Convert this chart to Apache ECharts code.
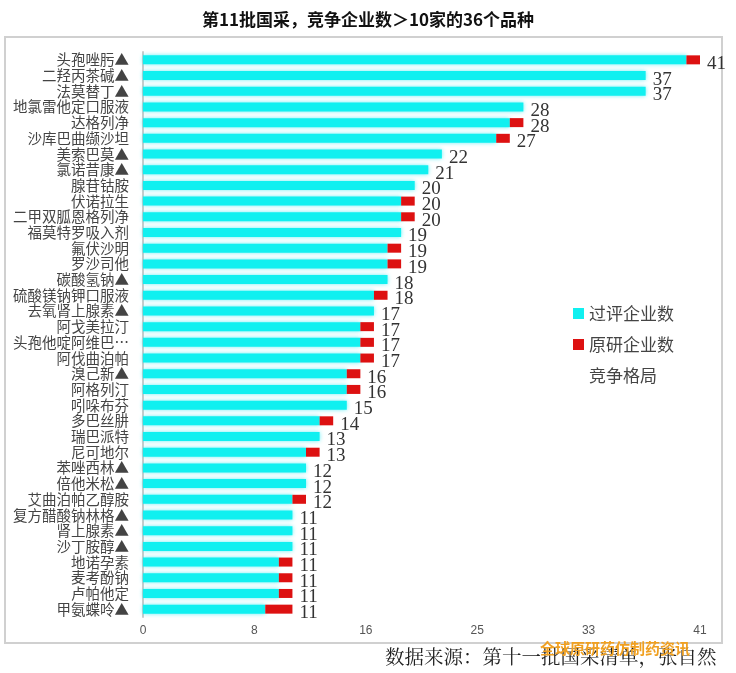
<!DOCTYPE html>
<html><head><meta charset="utf-8">
<script src="https://cdn.jsdelivr.net/npm/echarts@6/dist/echarts.min.js"></script>
<style>html,body{margin:0;padding:0;background:#fff}#c{width:736px;height:673px}</style>
</head><body><div id="c"></div>
<script>
const categories = ["头孢唑肟▲","二羟丙茶碱▲","法莫替丁▲","地氯雷他定口服液","达格列净","沙库巴曲缬沙坦","美索巴莫▲","氯诺昔康▲","腺苷钴胺","伏诺拉生","二甲双胍恩格列净","福莫特罗吸入剂","氟伏沙明","罗沙司他","碳酸氢钠▲","硫酸镁钠钾口服液","去氧肾上腺素▲","阿戈美拉汀","头孢他啶阿维巴…","阿伐曲泊帕","溴己新▲","阿格列汀","吲哚布芬","多巴丝肼","瑞巴派特","尼可地尔","苯唑西林▲","倍他米松▲","艾曲泊帕乙醇胺","复方醋酸钠林格▲","肾上腺素▲","沙丁胺醇▲","地诺孕素","麦考酚钠","卢帕他定","甲氨蝶呤▲"];
const totals = [41,37,37,28,28,27,22,21,20,20,20,19,19,19,18,18,17,17,17,17,16,16,15,14,13,13,12,12,12,11,11,11,11,11,11,11];
const originals = [1,0,0,0,1,1,0,0,0,1,1,0,1,1,0,1,0,1,1,1,1,1,0,1,0,1,0,0,1,0,0,0,1,1,1,2];
const approved = totals.map((t,i)=>t-originals[i]);
const xTicks = [0,8,16,25,33,41];

const chart = echarts.init(document.getElementById('c'));
chart.setOption({
  animation:false,
  title:{text:'第11批国采，竞争企业数＞10家的36个品种',left:'center',top:6,
    textStyle:{fontSize:17,fontWeight:'bold',color:'#111',fontFamily:'Noto Sans CJK SC'}},
  graphic:[
    {type:'rect',shape:{x:5,y:37,width:717,height:606},style:{fill:'none',stroke:'#d0d0d0',lineWidth:2}},
    {type:'text',left:385,top:647,style:{text:'数据来源：第十一批国采清单，张自然',fontSize:19.5,fill:'#222',fontFamily:'Noto Serif CJK SC, Noto Sans CJK SC'}},
    {type:'text',left:540,top:641,style:{text:'全球原研药仿制药资讯',fontSize:15,fill:'#f0a020',fontWeight:'bold',fontFamily:'Noto Sans CJK SC'}}
  ],
  legend:{orient:'vertical',left:568,top:300,itemGap:14,itemWidth:11,itemHeight:11,
    textStyle:{fontSize:17,color:'#444',fontFamily:'Noto Sans CJK SC'},
    data:[{name:'过评企业数',icon:'rect'},{name:'原研企业数',icon:'rect'},{name:'竞争格局',icon:'none'}]},
  grid:{left:143,right:36,top:52,bottom:56},
  xAxis:{type:'value',min:0,max:41,interval:8.2,
    axisLine:{show:false},axisTick:{show:false},splitLine:{show:false},
    axisLabel:{color:'#555',fontSize:12,formatter:v=>{let r=Math.round(v);return xTicks.includes(r)?String(r):'';}}},
  yAxis:{type:'category',inverse:true,data:categories,
    axisLine:{lineStyle:{color:'#ccc',width:2}},axisTick:{show:false},
    axisLabel:{color:'#444',fontSize:14.5,margin:14,fontFamily:'Noto Sans CJK SC',interval:0}},
  series:[
    {name:'过评企业数',type:'bar',stack:'a',data:approved,barWidth:9,
      itemStyle:{color:'#10f0f0',shadowColor:'rgba(0,230,240,0.6)',shadowBlur:4}},
    {name:'原研企业数',type:'bar',stack:'a',data:originals,barWidth:9,itemStyle:{color:'#dd1111'}},
    {name:'竞争格局',type:'bar',stack:'a',data:totals.map(()=>0),barWidth:9,
      label:{show:true,position:'right',distance:7,offset:[0,4],color:'#333',fontSize:19,fontFamily:'Liberation Serif, DejaVu Serif',
        formatter:p=>totals[p.dataIndex]}}
  ]
});
</script></body></html>
